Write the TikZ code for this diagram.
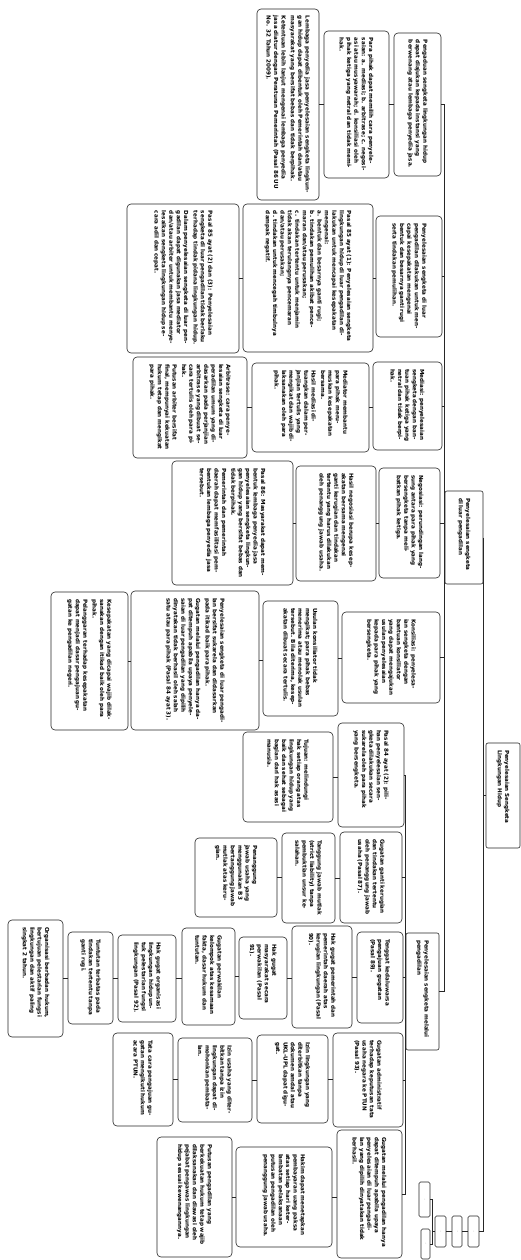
\documentclass[tikz,border=0pt]{standalone}
\usepackage{fontspec}
\usetikzlibrary{calc}
\newfontfamily\boxfont{DejaVu Sans}
\tikzset{
  box/.style={draw=black!85, line width=0.6pt, rounded corners=4pt, rotate=-90, align=left,
    inner xsep=3pt, inner ysep=3pt, text=black,
    font=\boxfont\bfseries\fontsize{5.6}{7.4}\selectfont},
  mainbox/.style={box, rounded corners=2pt},
  tinybox/.style={draw=black!85, line width=0.6pt, rounded corners=1.5pt, rotate=-90,
    inner sep=0pt, font=\fontsize{4}{4}\selectfont},
  link/.style={draw=black!85, line width=0.6pt},
}
% #1 style, #2 name, #3 x, #4 y, #5 width (across), #6 height (along text), #7 text
\newcommand\mybox[7]{%
  \pgfmathsetmacro\mytw{#6-14}%
  \node[#1, text width=\mytw pt, minimum width=#6pt, minimum height=#5pt] (#2) at (#3,#4) {#7};}
\begin{document}
\begin{tikzpicture}[x=1pt,y=-1pt]
\fill[white] (0,0) rectangle (520,1260);
\useasboundingbox (0,0) rectangle (520,1260);

% ---- row 1
\mybox{box}{a1}{288}{104.5}{62}{191}{Lembaga penyedia jasa penyelesaian sengketa lingkungan hidup dapat dibentuk oleh Pemerintah dan/atau masyarakat yang bersifat bebas dan tidak berpihak.\\[2pt] Ketentuan lebih lanjut mengenai lembaga penyedia jasa diatur dengan Peraturan Pemerintah (Pasal 86 UU No. 32 Tahun 2009).}
\mybox{box}{a2}{356.5}{104.5}{65}{147}{Para pihak dapat memilih cara penyelesaian: a. mediasi; b. arbitrase; c. negosiasi atau musyawarah; d. konsiliasi oleh pihak ketiga yang netral dan tidak memihak.}
\mybox{box}{a3}{417.5}{104.5}{47}{143}{Pengaduan sengketa lingkungan hidup dapat diajukan kepada instansi yang berwenang atau lembaga penyedia jasa.}
% ---- row 2
\mybox{box}{a4}{183}{278.5}{112}{149}{Pasal 85 ayat (2) dan (3): Penyelesaian sengketa di luar pengadilan tidak berlaku terhadap tindak pidana lingkungan hidup.\\[2pt] Dalam penyelesaian sengketa di luar pengadilan dapat digunakan jasa mediator dan/atau arbiter untuk membantu menyelesaikan sengketa lingkungan hidup secara adil dan cepat.}
\mybox{box}{a5}{308}{278}{130}{148}{Pasal 85 ayat (1): Penyelesaian sengketa lingkungan hidup di luar pengadilan dilakukan untuk mencapai kesepakatan mengenai:\\ a. bentuk dan besarnya ganti rugi;\\ b. tindakan pemulihan akibat pencemaran dan/atau perusakan;\\ c. tindakan tertentu untuk menjamin tidak akan terulangnya pencemaran dan/atau perusakan;\\ d. tindakan untuk mencegah timbulnya dampak negatif.}
\mybox{box}{a6}{409}{276.5}{66}{121}{Penyelesaian sengketa di luar pengadilan dilakukan untuk mencapai kesepakatan mengenai bentuk dan besarnya ganti rugi serta tindakan pemulihan.}
% ---- row 3
\mybox{box}{a7}{190}{407.5}{114}{101}{Arbitrase: cara penyelesaian sengketa di luar peradilan umum yang didasarkan pada perjanjian arbitrase yang dibuat secara tertulis oleh para pihak.\\[2pt] Putusan arbiter bersifat final, mempunyai kekuatan hukum tetap dan mengikat para pihak.}
\mybox{box}{a8}{310.5}{407.5}{117}{89}{Mediator membantu para pihak merumuskan kesepakatan bersama.\\[2pt] Hasil mediasi dituangkan dalam perjanjian tertulis yang mengikat dan wajib dilaksanakan oleh para pihak.}
\mybox{box}{a9}{407.5}{406}{69}{88}{Mediasi: penyelesaian sengketa dengan bantuan pihak ketiga yang netral dan tidak berpihak.}
% ---- row 4
\mybox{box}{a10}{232.5}{523}{121}{124}{Pasal 86: Masyarakat dapat membentuk lembaga penyedia jasa penyelesaian sengketa lingkungan hidup yang bersifat bebas dan tidak berpihak.\\[2pt] Pemerintah dan pemerintah daerah dapat memfasilitasi pembentukan lembaga penyedia jasa tersebut.}
\mybox{box}{a11}{336}{523.5}{80}{115}{Hasil negosiasi berupa kesepakatan bersama mengenai ganti kerugian dan tindakan tertentu yang harus dilakukan oleh penanggung jawab usaha.}
\mybox{box}{a12}{409.5}{523}{61}{110}{Negosiasi: perundingan langsung antara para pihak yang bersengketa tanpa melibatkan pihak ketiga.}
\mybox{mainbox}{b1}{464}{537.5}{38}{93}{Penyelesaian sengketa di luar pengadilan}
% ---- row 5
\mybox{box}{a13}{89.5}{661}{77}{138}{Kesepakatan yang dicapai wajib dilaksanakan dengan itikad baik oleh para pihak.\\[2pt] Pelanggaran terhadap kesepakatan dapat menjadi dasar pengajuan gugatan ke pengadilan negeri.}
\mybox{box}{a14}{195}{660.5}{128}{139}{Penyelesaian sengketa di luar pengadilan bersifat sukarela dan didasarkan pada itikad baik para pihak.\\[2pt] Gugatan melalui pengadilan hanya dapat ditempuh apabila upaya penyelesaian di luar pengadilan yang dipilih dinyatakan tidak berhasil oleh salah satu atau para pihak (Pasal 84 ayat 3).}
\mybox{box}{a15}{300.5}{658.5}{75}{115}{Usulan konsiliator tidak mengikat; para pihak bebas menerima atau menolak usulan tersebut. Bila diterima, kesepakatan dibuat secara tertulis.}
\mybox{box}{a16}{391}{657.5}{98}{91}{Konsiliasi: penyelesaian sengketa dengan bantuan konsiliator yang dapat mengajukan usulan penyelesaian kepada para pihak yang bersengketa.}
% ---- row 6
\mybox{box}{a17}{288}{777}{90}{90}{Tujuan: melindungi hak setiap orang atas lingkungan hidup yang baik dan sehat sebagai bagian dari hak asasi manusia.}
\mybox{box}{a18}{371}{775}{66}{104}{Pasal 84 ayat (2): pilihan penyelesaian sengketa dilakukan secara sukarela oleh para pihak yang bersengketa.}
\mybox{mainbox}{c1}{422.5}{991.5}{33}{117}{Penyelesaian sengketa melalui pengadilan}
% ---- court side
\mybox{box}{d1}{371}{877.5}{62}{91}{Gugatan ganti kerugian dan tindakan tertentu oleh penanggung jawab usaha (Pasal 87).}
\mybox{box}{d2}{308.5}{878}{53}{90}{Tanggung jawab mutlak (strict liability) tanpa pembuktian unsur kesalahan.}
\mybox{box}{d3}{236}{877.5}{82}{79}{Penanggung jawab usaha yang menggunakan B3 bertanggung jawab mutlak atas kerugian.}
\mybox{box}{d4}{380}{977.5}{46}{91}{Tenggat kedaluwarsa pengajuan gugatan (Pasal 89).}
\mybox{box}{d5}{322}{977}{60}{102}{Hak gugat pemerintah dan pemerintah daerah atas kerugian lingkungan (Pasal 90).}
\mybox{box}{d6}{263}{978}{48}{82}{Hak gugat masyarakat secara perwakilan (Pasal 91).}
\mybox{box}{d7}{208.5}{976.5}{53}{97}{Gugatan perwakilan kelompok atas kesamaan fakta, dasar hukum dan tuntutan.}
\mybox{box}{d8}{147}{978.5}{58}{87}{Hak gugat organisasi lingkungan hidup untuk pelestarian fungsi lingkungan (Pasal 92).}
\mybox{box}{d9}{90.5}{978}{45}{92}{Tuntutan terbatas pada tindakan tertentu tanpa ganti rugi.}
\mybox{box}{d10}{35.5}{978.5}{55}{117}{Organisasi berbadan hukum, bertujuan pelestarian fungsi lingkungan dan aktif paling singkat 2 tahun.}
\mybox{box}{d11}{368}{1080}{70}{94}{Gugatan administratif terhadap keputusan tata usaha negara ke PTUN (Pasal 93).}
\mybox{box}{d12}{292.5}{1079}{71}{88}{Izin lingkungan yang diterbitkan tanpa dokumen amdal atau UKL-UPL dapat digugat.}
\mybox{box}{d13}{215}{1080}{74}{84}{Izin usaha yang diterbitkan tanpa izin lingkungan dapat dimohonkan pembatalan.}
\mybox{box}{d14}{143}{1079.5}{60}{93}{Tata cara pengajuan gugatan mengikuti hukum acara PTUN.}
\mybox{box}{d15}{369.5}{1194}{65}{128}{Gugatan melalui pengadilan hanya dapat ditempuh apabila upaya penyelesaian di luar pengadilan yang dipilih dinyatakan tidak berhasil.}
\mybox{box}{d16}{284}{1197}{96}{100}{Hakim dapat menetapkan pembayaran uang paksa atas setiap hari keterlambatan pelaksanaan putusan pengadilan oleh penanggung jawab usaha.}
\mybox{box}{d17}{194.5}{1197}{75}{120}{Putusan pengadilan yang berkekuatan hukum tetap wajib dilaksanakan dan diawasi oleh pejabat pengawas lingkungan hidup sesuai kewenangannya.}
% ---- root and small boxes
\mybox{mainbox}{root}{503}{795.5}{34}{105}{Penyelesaian Sengketa\\Lingkungan Hidup}
\node[tinybox, minimum width=35pt, minimum height=11pt] (e1) at (424.5,1199.5) {\textperiodcentered};
\node[tinybox, minimum width=30pt, minimum height=9pt] (e2) at (425.5,1244) {\textperiodcentered};
\node[tinybox, minimum width=31pt, minimum height=11pt] (e3) at (440.5,1231.5) {\textperiodcentered};
\node[tinybox, minimum width=31pt, minimum height=10pt] (e4) at (457,1231.5) {\textperiodcentered};
\node[tinybox, minimum width=31pt, minimum height=11pt] (e5) at (473.5,1231.5) {\textperiodcentered};

% ---- chains inside rows
\foreach \l/\r in {a1/a2,a2/a3,a4/a5,a5/a6,a7/a8,a8/a9,a10/a11,a11/a12,a13/a14,a14/a15,a15/a16,a17/a18,
  d3/d2,d2/d1,d10/d9,d9/d8,d8/d7,d7/d6,d6/d5,d5/d4,d14/d13,d13/d12,d12/d11,d17/d16,d16/d15}
  {\draw[link] (\l.north) -- (\l.north -| \r.south);}

% ---- trunk of the out-of-court branch
\draw[link] (a3.north -| b1.south) -- (c1.north -| b1.south);
\foreach \n in {a3,a6,a9,a12,a16,c1}
  {\draw[link] (\n.north) -- (\n.north -| b1.south);}
% ---- trunk of the court branch
\draw[link] (a18.north -| c1.south) -- (d15.north -| c1.south);
\foreach \n in {a18,d1,d4,d11,d15}
  {\draw[link] (\n.north) -- (\n.north -| c1.south);}
% ---- main bus
\draw[link] (b1.north) |- (e5.north);
\draw[link] (root.south) -- (root.south -| b1.north);
% ---- small boxes
\draw[link] (e4.north) -- (e5.south);
\draw[link] (e3.north) -- (e4.south);
\coordinate (ej) at ($(e3.south)+(-2.5,0)$);
\draw[link] (e3.south) -- (ej);
\draw[link] (e1.north) -| (ej);
\draw[link] (e2.north) -| (ej);
\end{tikzpicture}
\end{document}
